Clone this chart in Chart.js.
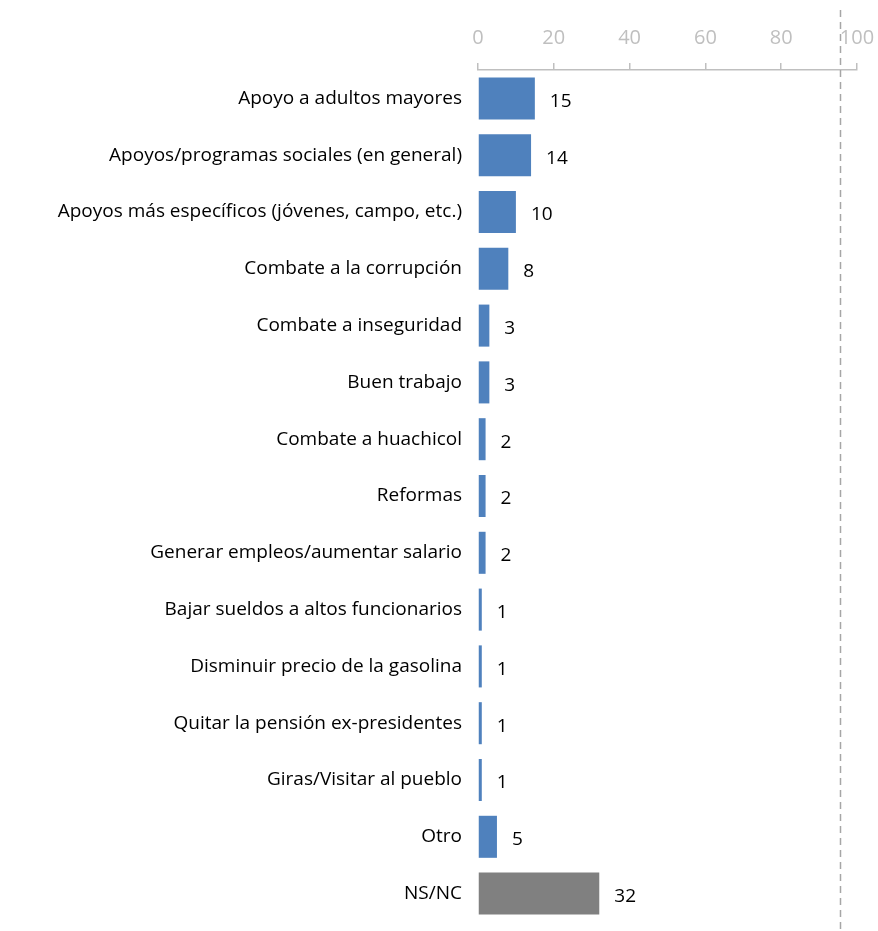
<!DOCTYPE html>
<html>
<head>
<meta charset="utf-8">
<script src="https://cdn.jsdelivr.net/npm/chart.js@4"></script>
<style>
  html, body { margin: 0; padding: 0; background: #fff; }
  #wrap { width: 878px; height: 931px; }
</style>
</head>
<body>
<div id="wrap"><canvas id="barChart" width="878" height="931"></canvas></div>
<script>
const categories = [
    'Apoyo a adultos mayores',
    'Apoyos/programas sociales (en general)',
    'Apoyos más específicos (jóvenes, campo, etc.)',
    'Combate a la corrupción',
    'Combate a inseguridad',
    'Buen trabajo',
    'Combate a huachicol',
    'Reformas',
    'Generar empleos/aumentar salario',
    'Bajar sueldos a altos funcionarios',
    'Disminuir precio de la gasolina',
    'Quitar la pensión ex-presidentes',
    'Giras/Visitar al pueblo',
    'Otro',
    'NS/NC'
];
const values = [15, 14, 10, 8, 3, 3, 2, 2, 2, 1, 1, 1, 1, 5, 32];
const xTicks = [0, 20, 40, 60, 80, 100];
const refLine = 95.5;

const barColors = categories.map(c => c === 'NS/NC' ? '#808080' : '#4f81bd');

// value labels to the right of each bar
const valueLabels = {
    id: 'valueLabels',
    afterDatasetsDraw(chart) {
        const ctx = chart.ctx;
        const meta = chart.getDatasetMeta(0);
        ctx.save();
        ctx.font = '19px "Open Sans"';
        ctx.fillStyle = '#000';
        ctx.textAlign = 'left';
        ctx.textBaseline = 'middle';
        meta.data.forEach((bar, i) => {
            ctx.fillText(String(values[i]), bar.x + 15, bar.y + 3);
        });
        ctx.restore();
    }
};

// dashed vertical line on the right
const dashedLine = {
    id: 'dashedLine',
    afterDraw(chart) {
        const ctx = chart.ctx;
        const x = Math.round(chart.scales.x.getPixelForValue(refLine)) + 0.5;
        ctx.save();
        ctx.strokeStyle = '#a6a6a6';
        ctx.lineWidth = 1.5;
        ctx.setLineDash([7, 5]);
        ctx.beginPath();
        ctx.moveTo(x, 10);
        ctx.lineTo(x, chart.height);
        ctx.stroke();
        ctx.restore();
    }
};

const ctx = document.getElementById('barChart').getContext('2d');
new Chart(ctx, {
    type: 'bar',
    data: {
        labels: categories,
        datasets: [{
            data: values,
            backgroundColor: barColors,
            barPercentage: 0.74,
            categoryPercentage: 1.0
        }]
    },
    options: {
        indexAxis: 'y',
        responsive: false,
        animation: false,
        layout: { padding: { top: 0, right: 21, bottom: 9, left: 0 } },
        plugins: {
            legend: { display: false },
            tooltip: { enabled: false }
        },
        scales: {
            x: {
                position: 'top',
                min: 0,
                max: 100,
                afterBuildTicks(scale) {
                    scale.ticks = xTicks.map(v => ({ value: v }));
                },
                afterFit(scale) {
                    scale.height = 70;
                    scale.paddingLeft = 0;
                    scale.paddingRight = 0;
                },
                border: { display: true, color: '#bfbfbf', width: 1.5 },
                grid: {
                    drawOnChartArea: false,
                    drawTicks: true,
                    tickLength: 7,
                    color: '#bfbfbf',
                    lineWidth: 1.5
                },
                ticks: {
                    color: '#bfbfbf',
                    font: { family: 'Open Sans', size: 20 },
                    padding: 13,
                    maxRotation: 0
                }
            },
            y: {
                afterFit(scale) {
                    scale.width = 478;
                    scale.paddingTop = 0;
                    scale.paddingBottom = 0;
                },
                border: { display: false },
                grid: { display: false },
                ticks: {
                    color: '#000',
                    font: { family: 'Open Sans', size: 19 },
                    padding: 8
                }
            }
        }
    },
    plugins: [valueLabels, dashedLine]
});
</script>
</body>
</html>
